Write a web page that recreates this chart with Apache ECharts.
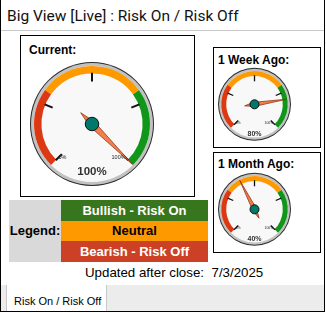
<!DOCTYPE html>
<html>
<head>
<meta charset="utf-8">
<script src="https://cdn.jsdelivr.net/npm/echarts@6/dist/echarts.min.js"></script>
<style>
html,body{margin:0;padding:0;background:#fff;}
#page{position:relative;width:326px;height:313px;overflow:hidden;font-family:"Liberation Sans",Arial,sans-serif;color:#000;}
#frame{position:absolute;left:0;top:0;width:325px;height:312px;box-sizing:border-box;border-left:1px solid #000;border-right:1px solid #000;border-bottom:1px solid #000;}
#title{position:absolute;left:7px;top:6px;font-family:Roboto,sans-serif;font-size:15.5px;line-height:20px;white-space:nowrap;color:#111;}
#titleLine{position:absolute;left:1px;top:30px;width:323px;height:1px;background:#c8c8c8;}
.box{position:absolute;border:1px solid #000;box-sizing:border-box;}
.boxTitle{position:absolute;font-weight:bold;font-size:12px;line-height:14px;white-space:nowrap;}
#legendHead{position:absolute;left:9px;top:200px;width:52px;height:62px;background:#d9d9d9;font-weight:bold;font-size:13px;line-height:62px;text-align:center;}
.lrow{position:absolute;left:61px;width:147px;font-weight:bold;font-size:13px;text-align:center;white-space:nowrap;}
.upd{position:absolute;top:265.3px;font-size:13.3px;line-height:15px;white-space:nowrap;}
#bar{position:absolute;left:1px;top:285px;width:323px;height:26px;background:#ececec;}
#tab{position:absolute;left:6px;top:285px;width:101px;height:26px;background:#fff;box-sizing:border-box;border-left:1px solid #c8c8c8;border-right:1px solid #c8c8c8;}
#tabText{position:absolute;left:14px;top:295.4px;font-size:11px;line-height:13px;white-space:nowrap;}
#chart{position:absolute;left:0;top:0;width:326px;height:313px;pointer-events:none;}
</style>
</head>
<body>
<div id="page">
  <div id="frame"></div>
  <div id="title"></div>
  <div id="titleLine"></div>
  <div class="box" style="left:20px;top:35px;width:175px;height:162px;"></div>
  <div class="box" style="left:213px;top:47px;width:108px;height:101px;"></div>
  <div class="box" style="left:213px;top:152px;width:108px;height:101px;"></div>
  <div class="boxTitle" id="t0" style="left:29px;top:43px;"></div>
  <div class="boxTitle" id="t1" style="left:218px;top:53px;"></div>
  <div class="boxTitle" id="t2" style="left:218px;top:157px;"></div>
  <div id="legendHead"></div>
  <div class="lrow" id="l0" style="top:200px;height:21px;line-height:21px;background:#38761d;color:#fff;"></div>
  <div class="lrow" id="l1" style="top:221px;height:20px;line-height:20px;background:#ff9900;color:#000;"></div>
  <div class="lrow" id="l2" style="top:241px;height:21px;line-height:21px;background:#cc4125;color:#fff;"></div>
  <div class="upd" id="updLabel" style="right:122px;"></div>
  <div class="upd" id="updDate" style="left:211.5px;"></div>
  <div id="bar"></div>
  <div id="tab"></div>
  <div id="tabText"></div>
  <div id="chart"></div>
</div>
<script>
// ---- data ----
const chartTitle = 'Big View [Live] : Risk On / Risk Off';
const gaugeTitles = ['Current:', '1 Week Ago:', '1 Month Ago:'];
const gaugeValues = [100, 80, 40];
const bandLimits = [30, 70, 100];          // red to 30, orange to 70, green to 100
const tickValues = [0, 25, 50, 75, 100];
const tickLabels = ['0%', '', '', '', '100%'];
const legendTitle = 'Legend:';
const legendLabels = ['Bullish - Risk On', 'Neutral', 'Bearish - Risk Off'];
const updatedLabel = 'Updated after close:';
const updatedDate = '7/3/2025';
const tabLabel = 'Risk On / Risk Off';

// ---- text ----
document.getElementById('title').textContent = chartTitle;
gaugeTitles.forEach((t, i) => document.getElementById('t' + i).textContent = t);
document.getElementById('legendHead').textContent = legendTitle;
legendLabels.forEach((t, i) => document.getElementById('l' + i).textContent = t);
document.getElementById('updLabel').textContent = updatedLabel;
document.getElementById('updDate').textContent = updatedDate;
document.getElementById('tabText').textContent = tabLabel;

// ---- layout / styles ----
const bandColors = ['#dc3912', '#ff9900', '#109618'];
const layouts = [
  {cx: 92, cy: 124, R: 62, ring: 4, band: 7.4, tickLen: 8.7, tickW: 2, lab: 5.5, labDist: 2.5,
   tip: 57, tail: 16, pw: 6.5, hub: 13.5, det: 11.5, detY: 48},
  {cx: 254.5, cy: 104.3, R: 36.5, ring: 3.2, band: 5, tickLen: 6, tickW: 1.3, lab: 3.4, labDist: 1.5,
   tip: 32.5, tail: 10, pw: 4.2, hub: 9, det: 7, detY: 30},
  {cx: 254.5, cy: 209.3, R: 36.5, ring: 3.2, band: 5, tickLen: 6, tickW: 1.3, lab: 3.4, labDist: 1.5,
   tip: 32.5, tail: 10, pw: 4.2, hub: 9, det: 7, detY: 30}
];

function disk(L, r, color, z) {
  return {
    type: 'gauge', center: [L.cx, L.cy], radius: r, startAngle: 90, endAngle: -270,
    axisLine: {lineStyle: {width: r, color: [[1, color]]}},
    splitLine: {show: false}, axisTick: {show: false}, axisLabel: {show: false},
    pointer: {show: false}, anchor: {show: false}, title: {show: false}, detail: {show: false},
    data: [{value: 0}], silent: true, animation: false, z: z
  };
}

const series = [];
layouts.forEach((L, i) => {
  series.push(disk(L, L.R, '#2b2b2b', 1));
  series.push(disk(L, L.R - 1, '#c2c2c2', 1));
  series.push(disk(L, L.R - L.ring, '#f8f8f8', 1));
  const gr = L.R - L.ring;
  series.push({
    type: 'gauge', center: [L.cx, L.cy], radius: gr, startAngle: 225, endAngle: -45,
    min: tickValues[0], max: tickValues[tickValues.length - 1], splitNumber: tickValues.length - 1,
    axisLine: {lineStyle: {width: L.band, color: bandLimits.map((v, k) => [v / 100, bandColors[k]])}},
    axisTick: {show: false},
    splitLine: {distance: -0.7, length: L.tickLen, lineStyle: {color: '#111', width: L.tickW}},
    axisLabel: {distance: L.labDist, fontSize: L.lab, color: '#222', fontFamily: 'Liberation Sans',
      formatter: v => tickLabels[tickValues.indexOf(v)] || ''},
    pointer: {icon: 'path://M5,0 L10,78 L5,100 L0,78 Z', length: L.tip + L.tail, width: L.pw,
      offsetCenter: [0, L.tail], itemStyle: {color: '#f47f4d', borderColor: '#8a2f12', borderWidth: 0.7}},
    anchor: {show: true, showAbove: true, size: L.hub, itemStyle: {color: '#00796b', borderColor: '#111', borderWidth: 1}},
    title: {show: false},
    detail: {offsetCenter: [0, L.detY], fontSize: L.det, fontWeight: 'bold', color: '#333',
      fontFamily: 'Liberation Sans', formatter: '{value}%'},
    data: [{value: gaugeValues[i]}], animation: false, z: 3
  });
});

const chart = echarts.init(document.getElementById('chart'), null, {renderer: 'canvas'});
chart.setOption({backgroundColor: 'transparent', animation: false, series: series});
</script>
</body>
</html>
